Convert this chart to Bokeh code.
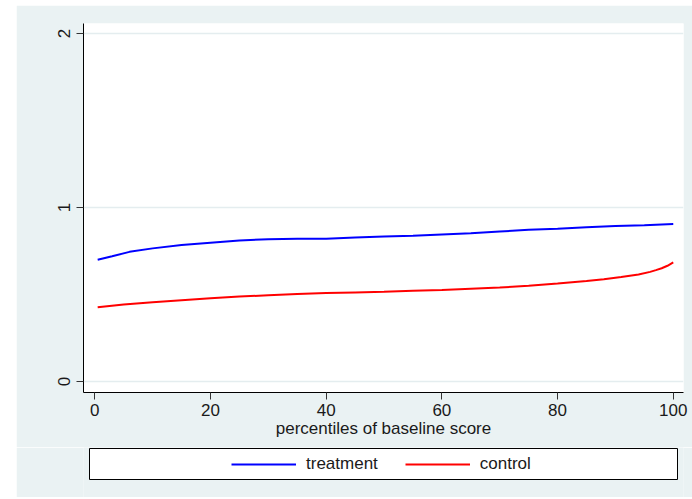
from bokeh.plotting import figure
from bokeh.layouts import column
from bokeh.models import Range1d, FixedTicker, Legend, LegendItem, BoxAnnotation
from bokeh.embed import file_html
from bokeh.resources import INLINE

# ---- data ----
pct_treat = [0.5, 3, 6, 10, 15, 20, 25, 30, 35, 40, 45, 50, 55, 60, 65, 70, 75, 80, 85, 90, 95, 100]
treatment = [0.700, 0.720, 0.745, 0.765, 0.785, 0.798, 0.810, 0.818, 0.820, 0.821, 0.827, 0.833,
             0.838, 0.845, 0.852, 0.862, 0.872, 0.878, 0.886, 0.893, 0.898, 0.905]
pct_ctrl = [0.5, 5, 10, 15, 20, 25, 30, 35, 40, 45, 50, 55, 60, 65, 70, 75, 80, 85, 88, 91,
            94, 96, 97, 98, 99, 100]
control = [0.427, 0.443, 0.455, 0.467, 0.478, 0.488, 0.496, 0.503, 0.508, 0.512, 0.516, 0.521,
           0.526, 0.533, 0.540, 0.550, 0.563, 0.578, 0.588, 0.601, 0.615, 0.630, 0.640, 0.651,
           0.665, 0.684]
x_ticks = [0, 20, 40, 60, 80, 100]
y_ticks = [0, 1, 2]
x_title = "percentiles of baseline score"
series_names = ["treatment", "control"]
series_colors = ["#0000FF", "#FF0000"]

BG = "#EAF2F3"
FONT = "Liberation Sans"
TXT = "#1a1a1a"
FS = "17px"

# ---- main plot ----
p = figure(width=676, height=442, output_backend="svg", toolbar_location=None,
           x_range=Range1d(-1.95, 101.77), y_range=Range1d(-0.063, 2.057),
           min_border_left=67, min_border_right=9, min_border_top=18, min_border_bottom=55)
p.border_fill_color = BG
p.background_fill_color = "white"
p.outline_line_color = None

p.line(pct_treat, treatment, line_color=series_colors[0], line_width=2)
p.line(pct_ctrl, control, line_color=series_colors[1], line_width=2)

for ax in (p.xaxis[0], p.yaxis[0]):
    ax.axis_line_color = "black"
    ax.axis_line_width = 1
    ax.major_tick_line_color = "#333333"
    ax.major_tick_out = 7
    ax.major_tick_in = 0
    ax.minor_tick_line_color = None
    ax.major_label_text_font = FONT
    ax.major_label_text_font_size = FS
    ax.major_label_text_color = TXT

p.xaxis[0].ticker = FixedTicker(ticks=x_ticks)
p.yaxis[0].ticker = FixedTicker(ticks=y_ticks)
p.yaxis[0].major_label_orientation = "vertical"
p.yaxis[0].major_label_standoff = 6
p.xaxis[0].major_label_standoff = 4
p.xaxis[0].axis_label = x_title
p.xaxis[0].axis_label_text_font = FONT
p.xaxis[0].axis_label_text_font_size = FS
p.xaxis[0].axis_label_text_font_style = "normal"
p.xaxis[0].axis_label_text_color = TXT
p.xaxis[0].axis_label_standoff = 0

p.xgrid.grid_line_color = None
p.ygrid.ticker = FixedTicker(ticks=y_ticks)
p.ygrid.grid_line_color = "#E4EDEF"
p.ygrid.grid_line_width = 1.5

# ---- legend panel ----
p2 = figure(width=676, height=50, output_backend="svg", toolbar_location=None,
            x_range=Range1d(-1000, -900), y_range=Range1d(-1000, -900),
            x_axis_type=None, y_axis_type=None,
            min_border_left=67, min_border_right=9, min_border_top=0, min_border_bottom=0)
p2.border_fill_color = BG
p2.background_fill_color = BG
p2.outline_line_color = None
p2.grid.visible = False

box = BoxAnnotation(left=73, right=661, top=1, bottom=32,
                    left_units="canvas", right_units="canvas",
                    top_units="canvas", bottom_units="canvas",
                    fill_color="white", fill_alpha=1.0,
                    line_color="black", line_width=1, line_alpha=1.0)
p2.add_layout(box)

# legend keys (their data lie outside the visible range; only legend glyphs show)
k1 = p2.line(pct_treat, treatment, line_color=series_colors[0], line_width=2)
k2 = p2.line(pct_ctrl, control, line_color=series_colors[1], line_width=2)
legend = Legend(items=[LegendItem(label=series_names[0], renderers=[k1]),
                       LegendItem(label=series_names[1], renderers=[k2])],
                orientation="horizontal", location=(148, 23),
                glyph_width=65, glyph_height=20, label_height=20,
                label_standoff=10, spacing=27, padding=0, margin=0,
                border_line_color=None, background_fill_alpha=0,
                label_text_font=FONT, label_text_font_size=FS,
                label_text_color=TXT)
p2.add_layout(legend, "center")

layout = column(p, p2, spacing=0)
layout.margin = (5, 0, 0, 16)

open("out.html", "w").write(file_html(layout, INLINE))
